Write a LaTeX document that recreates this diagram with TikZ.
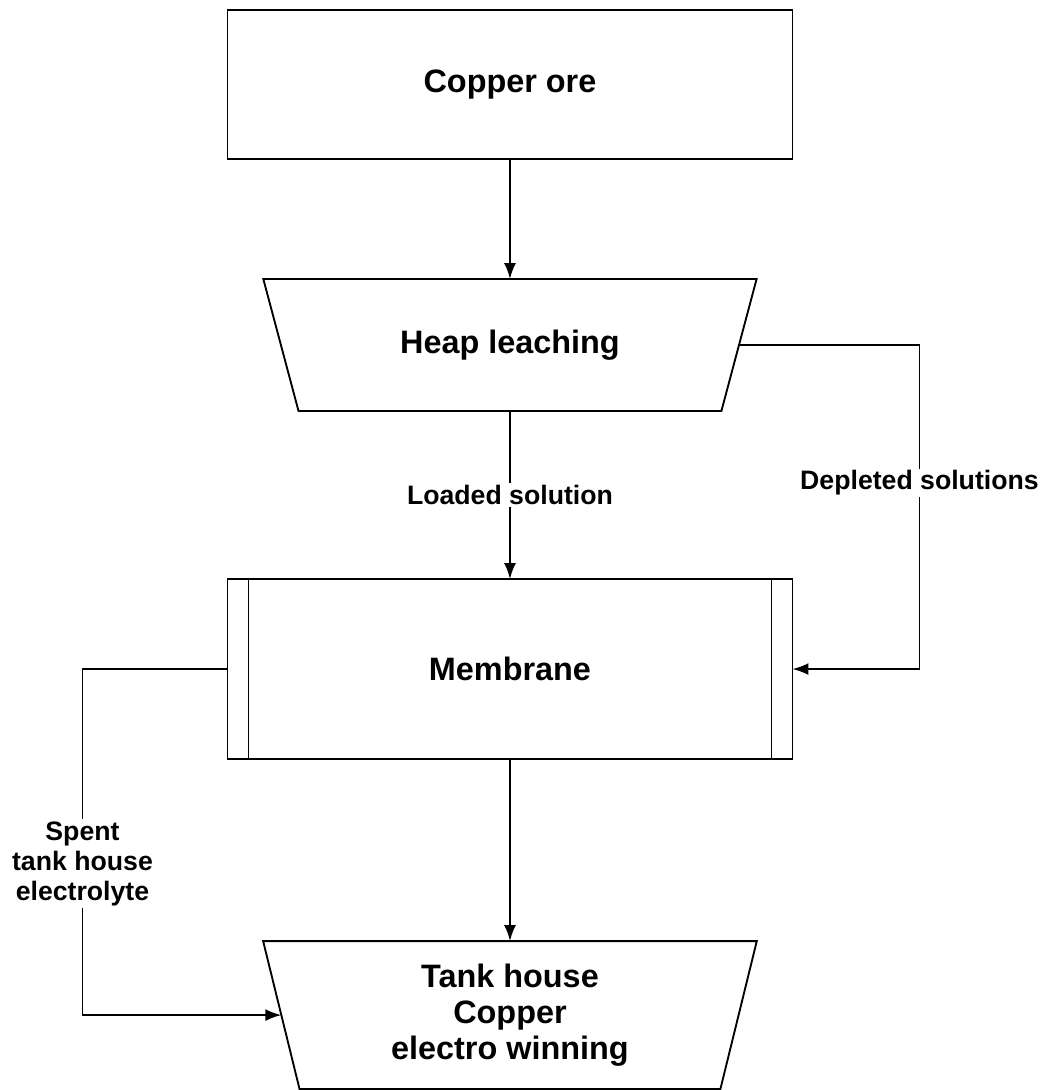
\documentclass[tikz,border=0pt]{standalone}
\usepackage{fontspec}
\setmainfont{Liberation Sans}
\usetikzlibrary{positioning,arrows.meta,shapes.geometric}
\tikzset{stage/.style={draw,line width=1.4pt,outer sep=0pt,inner sep=2pt,minimum width=423.75pt,align=center,font=\bfseries\fontsize{24.3}{26.8}\selectfont},
basin/.style={stage,trapezium,trapezium stretches=true,minimum width=371pt,trapezium left angle=#1,trapezium right angle=#1},
membr/.style={stage,minimum height=135pt,path picture={
 \draw[line width=1.4pt] ([xshift=15.75pt]path picture bounding box.north west)--([xshift=15.75pt]path picture bounding box.south west);
 \draw[line width=1.4pt] ([xshift=-15.75pt]path picture bounding box.north east)--([xshift=-15.75pt]path picture bounding box.south east);}},
tag/.style={fill=white,inner sep=1.5pt,align=center,font=\bfseries\fontsize{20}{22.5}\selectfont},
link/.style={draw,line width=1.4pt,-{Latex[length=12pt,width=9pt]}}}

\begin{document}
\begin{tikzpicture}[node distance=90pt]
\node[stage,minimum height=111.75pt] (ore) {Copper ore};
\node[basin=117.7,minimum height=99pt,below=90pt of ore] (heap) {Heap leaching};
\node[membr,below=126pt of heap] (mem) {Membrane};
\node[basin=101.1,minimum height=111pt,below=136.5pt of mem] (tank) {Tank house\\Copper\\electro winning};
\useasboundingbox (ore.center) +(-382.5pt,63.4pt) rectangle +(402pt,-754.1pt);
\coordinate (dep) at ([xshift=95.25pt]mem.east);
\coordinate (spent) at ([xshift=-108.75pt]mem.west);
\draw[link] (ore)--(heap);
\draw[link] (heap)--node[tag] {Loaded solution} (mem);
\draw[link] (heap.east) -| node[tag,pos=0.713] {Depleted solutions} (dep)--(mem.east);
\draw[link] (mem)--(tank);
\draw[link] (mem.west)--(spent) |- node[tag,pos=0.281] {Spent\\tank house\\electrolyte} (tank.west);
\end{tikzpicture}
\end{document}
